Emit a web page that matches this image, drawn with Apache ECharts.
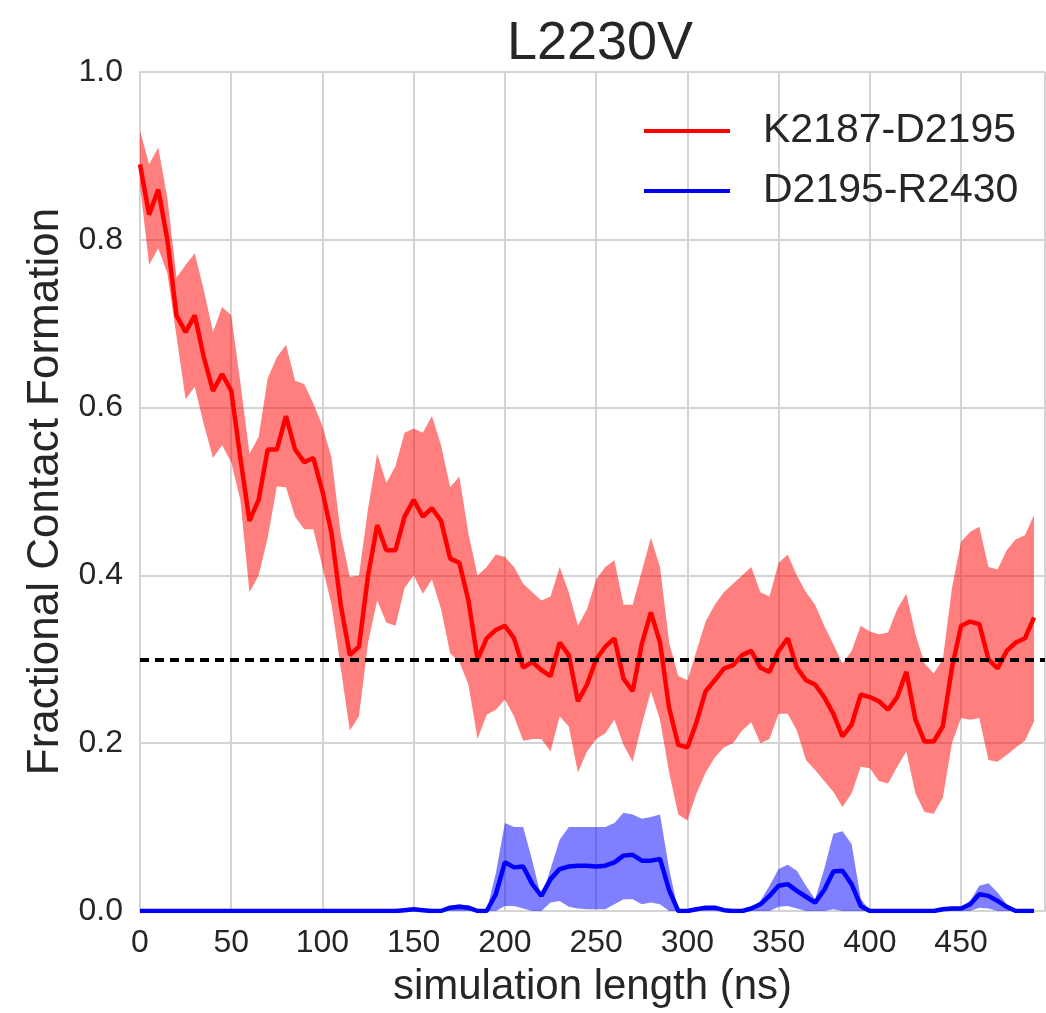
<!DOCTYPE html>
<html>
<head>
<meta charset="utf-8">
<script src="https://cdn.jsdelivr.net/npm/echarts@6/dist/echarts.min.js"></script>
<style>
  html, body { margin: 0; padding: 0; background: #fff; }
  #chart { width: 1046px; height: 1013px; }
</style>
</head>
<body>
<div id="chart"></div>
<script>
// simulation time (ns)
const times = [
  0, 5, 10, 15, 20, 25, 30, 35, 40, 45,
  50, 55, 60, 65, 70, 75, 80, 85, 90, 95,
  100, 105, 110, 115, 120, 125, 130, 135, 140, 145,
  150, 155, 160, 165, 170, 175, 180, 185, 190, 195,
  200, 205, 210, 215, 220, 225, 230, 235, 240, 245,
  250, 255, 260, 265, 270, 275, 280, 285, 290, 295,
  300, 305, 310, 315, 320, 325, 330, 335, 340, 345,
  350, 355, 360, 365, 370, 375, 380, 385, 390, 395,
  400, 405, 410, 415, 420, 425, 430, 435, 440, 445,
  450, 455, 460, 465, 470, 475, 480, 485, 490
];

// K2187-D2195
const redMean = [
  0.89, 0.83, 0.86, 0.80, 0.71, 0.69, 0.71, 0.66, 0.62, 0.64,
  0.62, 0.54, 0.465, 0.49, 0.55, 0.55, 0.59, 0.55, 0.535, 0.54,
  0.50, 0.45, 0.365, 0.305, 0.315, 0.40, 0.46, 0.43, 0.43, 0.47,
  0.49, 0.47, 0.48, 0.465, 0.42, 0.415, 0.37, 0.30, 0.325, 0.335,
  0.34, 0.325, 0.29, 0.297, 0.287, 0.28, 0.32, 0.305, 0.25, 0.27,
  0.30, 0.315, 0.325, 0.277, 0.262, 0.318, 0.356, 0.32, 0.242, 0.198,
  0.195, 0.225, 0.262, 0.275, 0.289, 0.293, 0.305, 0.31, 0.29, 0.285,
  0.31, 0.325, 0.29, 0.275, 0.27, 0.255, 0.235, 0.208, 0.222, 0.258,
  0.255, 0.25, 0.24, 0.255, 0.285, 0.228, 0.202, 0.202, 0.22, 0.29,
  0.34, 0.345, 0.342, 0.30, 0.289, 0.31, 0.32, 0.325, 0.35
];
const redUpper = [
  0.93, 0.89, 0.91, 0.85, 0.755, 0.77, 0.784, 0.74, 0.69, 0.72,
  0.71, 0.63, 0.545, 0.565, 0.635, 0.66, 0.675, 0.632, 0.628, 0.605,
  0.578, 0.54, 0.45, 0.398, 0.40, 0.48, 0.545, 0.51, 0.53, 0.57,
  0.575, 0.57, 0.59, 0.555, 0.505, 0.518, 0.45, 0.40, 0.41, 0.425,
  0.422, 0.41, 0.39, 0.38, 0.37, 0.375, 0.41, 0.38, 0.34, 0.36,
  0.395, 0.41, 0.418, 0.365, 0.365, 0.405, 0.445, 0.41, 0.32, 0.28,
  0.275, 0.31, 0.345, 0.365, 0.38, 0.39, 0.40, 0.41, 0.38, 0.375,
  0.415, 0.425, 0.40, 0.38, 0.365, 0.34, 0.318, 0.295, 0.31, 0.34,
  0.333, 0.33, 0.332, 0.36, 0.378, 0.33, 0.295, 0.283, 0.30, 0.385,
  0.44, 0.452, 0.458, 0.41, 0.407, 0.43, 0.443, 0.448, 0.472
];
const redLower = [
  0.865, 0.77, 0.79, 0.76, 0.685, 0.61, 0.625, 0.58, 0.54, 0.555,
  0.535, 0.49, 0.38, 0.40, 0.445, 0.506, 0.505, 0.47, 0.455, 0.455,
  0.41, 0.365, 0.29, 0.215, 0.232, 0.32, 0.37, 0.344, 0.34, 0.385,
  0.40, 0.378, 0.395, 0.36, 0.307, 0.297, 0.27, 0.205, 0.234, 0.24,
  0.252, 0.232, 0.203, 0.205, 0.205, 0.19, 0.232, 0.22, 0.165, 0.19,
  0.205, 0.212, 0.228, 0.198, 0.178, 0.222, 0.262, 0.228, 0.165, 0.115,
  0.108, 0.14, 0.165, 0.183, 0.195, 0.2, 0.215, 0.225, 0.2, 0.205,
  0.235, 0.235, 0.215, 0.18, 0.168, 0.155, 0.142, 0.124, 0.14, 0.172,
  0.17, 0.155, 0.152, 0.172, 0.19, 0.14, 0.118, 0.116, 0.135, 0.20,
  0.23, 0.228, 0.23, 0.18, 0.178, 0.186, 0.195, 0.203, 0.226
];

// D2195-R2430
const blueMean = [
  0, 0, 0, 0, 0, 0, 0, 0, 0, 0,
  0, 0, 0, 0, 0, 0, 0, 0, 0, 0,
  0, 0, 0, 0, 0, 0, 0, 0, 0, 0.001,
  0.002, 0.001, 0, 0, 0.004, 0.005, 0.004, 0, 0, 0.02,
  0.058, 0.052, 0.053, 0.032, 0.018, 0.038, 0.05, 0.053, 0.054, 0.054,
  0.053, 0.054, 0.058, 0.066, 0.067, 0.06, 0.06, 0.062, 0.025, 0,
  0, 0.002, 0.004, 0.004, 0.001, 0, 0, 0.003, 0.008, 0.018,
  0.03, 0.032, 0.024, 0.017, 0.01, 0.025, 0.047, 0.048, 0.032, 0.006,
  0, 0, 0, 0, 0, 0, 0, 0, 0.002, 0.003,
  0.003, 0.008, 0.02, 0.018, 0.012, 0.005, 0, 0, 0
];
const blueUpper = [
  0, 0, 0, 0, 0, 0, 0, 0, 0, 0,
  0, 0, 0, 0, 0, 0, 0, 0, 0, 0,
  0, 0, 0, 0, 0, 0, 0, 0, 0, 0.002,
  0.003, 0.002, 0, 0, 0.006, 0.008, 0.006, 0, 0, 0.045,
  0.105, 0.10, 0.10, 0.06, 0.015, 0.05, 0.085, 0.10, 0.10, 0.10,
  0.10, 0.10, 0.105, 0.117, 0.115, 0.11, 0.112, 0.115, 0.05, 0,
  0, 0.003, 0.006, 0.006, 0.002, 0, 0, 0.004, 0.012, 0.03,
  0.05, 0.055, 0.048, 0.03, 0.014, 0.05, 0.092, 0.095, 0.08, 0.015,
  0, 0, 0, 0, 0, 0, 0, 0, 0.003, 0.004,
  0.005, 0.012, 0.03, 0.033, 0.022, 0.008, 0, 0, 0
];
const blueLower = [
  0, 0, 0, 0, 0, 0, 0, 0, 0, 0,
  0, 0, 0, 0, 0, 0, 0, 0, 0, 0,
  0, 0, 0, 0, 0, 0, 0, 0, 0, 0,
  0, 0, 0, 0, 0, 0, 0, 0, 0, 0,
  0.006, 0.006, 0.003, 0, 0, 0.01, 0.012, 0.005, 0.003, 0.002,
  0.002, 0.002, 0.008, 0.014, 0.014, 0.008, 0.01, 0.008, 0, 0,
  0, 0, 0, 0, 0, 0, 0, 0, 0, 0,
  0.005, 0.006, 0.003, 0, 0, 0, 0.002, 0, 0, 0,
  0, 0, 0, 0, 0, 0, 0, 0, 0, 0,
  0, 0, 0.004, 0.003, 0, 0, 0, 0, 0
];

const threshold = 0.3;
const xTicks = [0, 50, 100, 150, 200, 250, 300, 350, 400, 450];
const yTicks = [0.0, 0.2, 0.4, 0.6, 0.8, 1.0];

const font = "'Liberation Sans', Arial, Helvetica, sans-serif";
const textColor = '#262626';
const gridColor = '#d4d4d4';

const pairs = (vals) => times.map((t, i) => [t, vals[i]]);

// shaded band between lower and upper, positioned through the axes
const bandSeries = (lo, hi, fill) => ({
  type: 'custom',
  silent: true,
  z: 1,
  clip: true,
  data: [[0, 0]],
  renderItem: (params, api) => {
    const top = times.map((t, i) => api.coord([t, hi[i]]));
    const bottom = times.map((t, i) => api.coord([t, lo[i]])).reverse();
    return {
      type: 'polygon',
      shape: { points: top.concat(bottom) },
      style: { fill: fill }
    };
  }
});

const myChart = echarts.init(document.getElementById('chart'));

const option = {
  animation: false,
  backgroundColor: '#ffffff',
  title: {
    text: 'L2230V',
    left: 595,
    textAlign: 'center',
    top: 12,
    textStyle: { fontFamily: font, fontSize: 54, fontWeight: 'normal', color: textColor }
  },
  legend: {
    data: ['K2187-D2195', 'D2195-R2430'],
    orient: 'vertical',
    left: 639,
    top: 105,
    icon: 'rect',
    itemWidth: 86,
    itemHeight: 4,
    itemGap: 18,
    textStyle: {
      fontFamily: font, fontSize: 41, color: textColor,
      lineHeight: 42, padding: [0, 0, 0, 28]
    }
  },
  grid: { left: 140, right: 1, top: 72, bottom: 95 },
  xAxis: {
    type: 'value',
    min: 0,
    max: 496,
    interval: 50,
    name: 'simulation length (ns)',
    nameLocation: 'middle',
    nameGap: 55,
    nameTextStyle: { fontFamily: font, fontSize: 42, color: textColor },
    axisLine: { show: true, lineStyle: { color: gridColor, width: 2 } },
    axisTick: { show: false },
    axisLabel: {
      fontFamily: font, fontSize: 32, color: textColor, margin: 16,
      showMaxLabel: false,
      formatter: (v) => xTicks.includes(v) ? String(v) : ''
    },
    splitLine: { show: true, lineStyle: { color: gridColor, width: 2 } }
  },
  yAxis: {
    type: 'value',
    min: 0,
    max: 1,
    interval: 0.2,
    name: 'Fractional Contact Formation',
    nameLocation: 'middle',
    nameGap: 72,
    nameTextStyle: { fontFamily: font, fontSize: 44, color: textColor },
    axisLine: { show: true, lineStyle: { color: gridColor, width: 2 } },
    axisTick: { show: false },
    axisLabel: {
      fontFamily: font, fontSize: 32, color: textColor, margin: 17,
      formatter: (v) => yTicks.some(t => Math.abs(t - v) < 1e-9) ? v.toFixed(1) : ''
    },
    splitLine: { show: true, lineStyle: { color: gridColor, width: 2 } }
  },
  series: [
    bandSeries(redLower, redUpper, 'rgba(255,0,0,0.5)'),
    bandSeries(blueLower, blueUpper, 'rgba(0,0,255,0.5)'),
    {
      name: 'K2187-D2195',
      type: 'line',
      data: pairs(redMean),
      symbol: 'none',
      color: '#ff0000',
      lineStyle: { color: '#ff0000', width: 4.5 },
      z: 3,
      markLine: {
        silent: true,
        symbol: ['none', 'none'],
        label: { show: false },
        lineStyle: { color: '#000000', type: [9, 6], width: 4 },
        data: [{ yAxis: threshold }]
      }
    },
    {
      name: 'D2195-R2430',
      type: 'line',
      data: pairs(blueMean),
      symbol: 'none',
      color: '#0000ff',
      lineStyle: { color: '#0000ff', width: 4.5 },
      z: 3
    }
  ]
};

option && myChart.setOption(option);
</script>
</body>
</html>
